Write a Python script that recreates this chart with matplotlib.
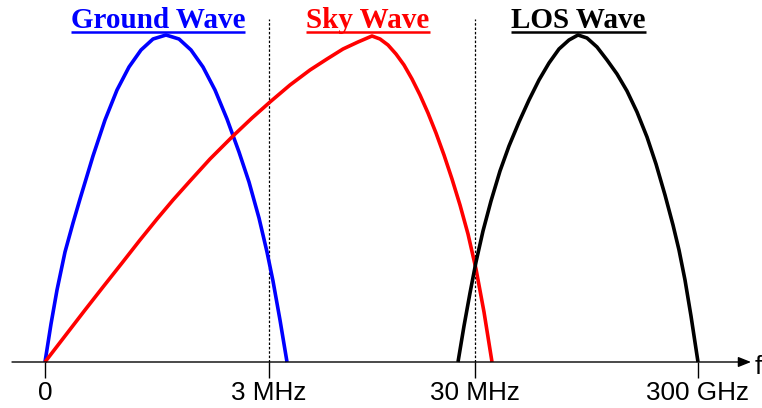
import matplotlib
matplotlib.use('Agg')
import matplotlib.pyplot as plt
import numpy as np

# Frequency axis (arbitrary position units, 0 = origin)
tick_pos = [0, 224, 430, 653]
tick_labels = ['0', '3 MHz', '30 MHz', '300 GHz']
band_edges = [224, 430]   # dashed separators

# Relative field strength curves
ground_x = [0, 6, 12, 20, 28, 35, 48, 60, 72, 84, 96, 108, 121,
            134, 146, 158, 170, 182, 194, 204, 214, 222, 228, 235, 242]
ground_y = [0, 38, 72, 110, 139, 163, 206, 242, 272, 295, 312, 323, 327,
            323, 312, 295, 272, 243, 210, 180, 144, 110, 81, 42, 0]

sky_x = [0, 20, 40, 58, 77, 95, 112, 128, 145, 165, 188, 207, 225, 245, 265, 282, 298, 313, 327,
         335, 343, 351, 359, 367, 375, 383, 391, 399, 407, 415, 423, 431, 439, 447]
sky_y = [0, 26, 52, 75, 99, 122, 143, 162, 181, 203, 226, 244, 260, 277, 292, 303, 313, 320, 326,
         323, 317, 308, 297, 283, 267, 249, 229, 207, 183, 157, 128, 93, 50, 0]

los_x = [413, 419, 425, 431, 438, 446, 455, 464, 474, 484, 494, 504, 514, 524, 533,
         542, 552, 562, 572, 582, 592, 602, 611, 620, 628, 634, 640, 646, 653]
los_y = [0, 36, 69, 100, 131, 161, 191, 216, 240, 262, 282, 299, 313, 322, 327,
         324, 315, 302, 288, 271, 250, 225, 198, 167, 137, 112, 82, 46, 0]

titles = ['Ground Wave', 'Sky Wave', 'LOS Wave']
title_x = [113, 323, 533.5]
colors = ['#0000ff', '#ff0000', '#000000']

fig = plt.figure(figsize=(7.62, 4.08), dpi=100)
ax = fig.add_axes([0, 0, 1, 1])
ax.set_xlim(-45, 717)
ax.set_ylim(-46, 362)
ax.axis('off')

# dashed band separators
for xe in band_edges:
    ax.plot([xe, xe], [0, 343], color='black', lw=0.9, ls=(0, (2, 1.5)))

# curves
for xs, ys, c in zip([ground_x, sky_x, los_x], [ground_y, sky_y, los_y], colors):
    ax.plot(xs, ys, color=c, lw=2.6, solid_joinstyle='round', solid_capstyle='butt')

# frequency axis with arrow
ax.annotate('', xy=(706, 0), xytext=(-33, 0),
            arrowprops=dict(arrowstyle='-|>,head_length=0.55,head_width=0.22',
                            lw=1, color='black', mutation_scale=14,
                            shrinkA=0, shrinkB=0))
ax.vlines(tick_pos, -16, 0, color='black', lw=1)
for xp, lab in zip(tick_pos, tick_labels):
    ax.text(xp, -19, lab, ha='center', va='top', fontsize=18.8,
            family='Liberation Sans')
ax.text(710, -12, 'f', ha='left', va='baseline', fontsize=18.8,
        family='Liberation Sans')

# underlined titles
texts = []
for t, xp, c in zip(titles, title_x, colors):
    texts.append(ax.text(xp, 334, t, ha='center', va='baseline', fontsize=21,
                         family='Liberation Serif', weight='bold', color=c))

fig.canvas.draw()
r = fig.canvas.get_renderer()
inv = ax.transData.inverted()
for t, c in zip(texts, colors):
    bb = t.get_window_extent(r)
    x0 = inv.transform((bb.x0, 0))[0]
    x1 = inv.transform((bb.x1, 0))[0]
    ax.plot([x0, x1], [330, 330], color=c, lw=1.8, solid_capstyle='butt')

fig.savefig('out.png', dpi=100)
